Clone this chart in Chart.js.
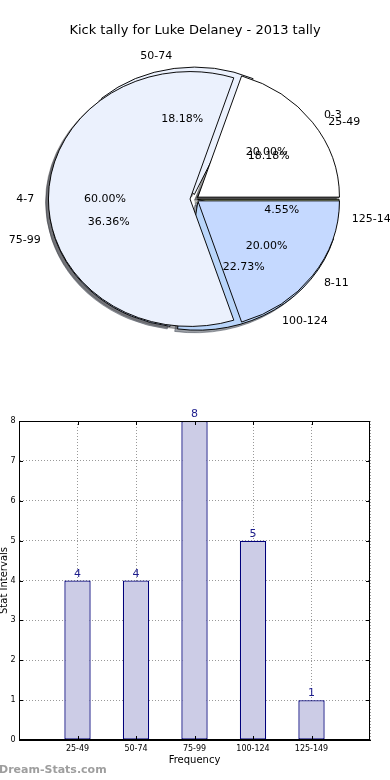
<!DOCTYPE html>
<html><head><meta charset="utf-8">
<script src="https://cdn.jsdelivr.net/npm/chart.js@4.4.0/dist/chart.umd.min.js"></script>
<style>
html,body{margin:0;padding:0;background:#fff;}
body{width:390px;height:780px;position:relative;overflow:hidden;font-family:'DejaVu Sans',sans-serif;}
#title{position:absolute;left:0;width:390px;top:21px;text-align:center;font-size:13px;line-height:18px;color:#000;}
canvas{position:absolute;}
#pieBack{left:0;top:0;visibility:hidden;}
#pieFront{left:0;top:0;}
#bar{left:0;top:400px;}
#wm{position:absolute;left:-1px;top:763px;font-size:11px;font-weight:bold;color:#9e9e9e;line-height:14px;}
</style></head>
<body>
<canvas id="pieBack" width="390" height="398"></canvas>
<canvas id="pieFront" width="390" height="398"></canvas>
<div id="title">Kick tally for Luke Delaney - 2013 tally</div>
<canvas id="bar" width="390" height="380"></canvas>
<div id="wm">Dream-Stats.com</div>
<script>
// ---- data ----
const kickLabels = ['0-3', '4-7', '8-11'];
const kickPercents = [20, 60, 20];
const intervalLabels = ['25-49', '50-74', '75-99', '100-124', '125-149'];
const intervalCounts = [4, 4, 8, 5, 1];

// ---- styles ----
const sliceColors = ['#ffffff', '#ebf1fd', '#c5d9ff', '#b9d5fa', '#e4f2a6'];
const frontExplode = [0.025, 0.035, 0.025];
const backExplode = [0.018, 0.035, 0.035, 0.035, 0.018];
const SQUASH = 0.9;
const PIE_RADIUS = 141.6;

Chart.defaults.font.family = "'DejaVu Sans', sans-serif";
Chart.defaults.color = '#000';
Chart.defaults.animation = false;

function rev(a) { return a.slice().reverse(); }
function shade(hex) {
  const n = parseInt(hex.slice(1), 16);
  const r = (n >> 16) & 255, g = (n >> 8) & 255, b = n & 255;
  return 'rgba(' + Math.round(r * 0.3) + ',' + Math.round(g * 0.3) + ',' + Math.round(b * 0.3) + ',0.5)';
}

function pieConfig(labels, values, colors, plugins) {
  return {
    type: 'pie',
    data: {
      labels: rev(labels),
      datasets: [{ data: rev(values), backgroundColor: rev(colors), borderColor: '#000', borderWidth: 1 }]
    },
    options: {
      responsive: false, animation: false, events: [],
      rotation: 90, radius: PIE_RADIUS,
      layout: { padding: 0 },
      plugins: { legend: { display: false }, tooltip: { enabled: false }, title: { display: false } }
    },
    plugins: plugins
  };
}

function drawArcLayer(ctx, chart, explodeArr, shadow) {
  const arcs = chart.getDatasetMeta(0).data;
  arcs.forEach(function (arc, i) {
    const r = arc.outerRadius;
    const a = (arc.startAngle + arc.endAngle) / 2;
    const e = explodeArr[i] * r;
    let dx = Math.cos(a) * e, dy = Math.sin(a) * e;
    const saved = arc.options;
    if (shadow) {
      dx += -0.02 * r; dy += 0.02 * r;
      const c = shade(saved.backgroundColor);
      const o = Object.assign({}, saved);
      o.backgroundColor = c; o.borderColor = c;
      arc.options = o;
    }
    ctx.save();
    ctx.translate(dx, dy);
    arc.draw(ctx);
    ctx.restore();
    arc.options = saved;
  });
}

function drawPieLabels(ctx, chart, explodeArr) {
  const arcs = chart.getDatasetMeta(0).data;
  const values = chart.data.datasets[0].data;
  const labels = chart.data.labels;
  const total = values.reduce(function (s, v) { return s + v; }, 0);
  ctx.save();
  ctx.font = "11px 'DejaVu Sans'";
  ctx.fillStyle = '#000';
  ctx.textBaseline = 'middle';
  arcs.forEach(function (arc, i) {
    const r = arc.outerRadius, a = (arc.startAngle + arc.endAngle) / 2;
    const e = explodeArr[i] * r;
    const c = Math.cos(a), s = Math.sin(a);
    const lx = arc.x + (e + 1.1 * r) * c, ly = arc.y + SQUASH * (e + 1.1 * r) * s;
    ctx.textAlign = c > 0 ? 'left' : 'right';
    ctx.fillText(labels[i], lx, ly);
    const px = arc.x + (e + 0.6 * r) * c, py = arc.y + SQUASH * (e + 0.6 * r) * s;
    ctx.textAlign = 'center';
    ctx.fillText((values[i] / total * 100).toFixed(2) + '%', px, py);
  });
  ctx.restore();
}

const backChart = new Chart(document.getElementById('pieBack'),
  pieConfig(intervalLabels, intervalCounts, sliceColors.slice(0, 5), [{
    id: 'hideBack', beforeDatasetsDraw: function () { return false; }
  }]));

const frontChart = new Chart(document.getElementById('pieFront'),
  pieConfig(kickLabels, kickPercents, sliceColors.slice(0, 3), [{
    id: 'pieLayers',
    beforeDatasetsDraw: function (chart) {
      const ctx = chart.ctx;
      const arc0 = chart.getDatasetMeta(0).data[0];
      const cx = arc0.x, cy = arc0.y;
      ctx.save();
      ctx.translate(cx, cy); ctx.scale(1, SQUASH); ctx.translate(-cx, -cy);
      drawArcLayer(ctx, backChart, rev(backExplode), true);
      drawArcLayer(ctx, chart, rev(frontExplode), true);
      drawArcLayer(ctx, backChart, rev(backExplode), false);
      drawArcLayer(ctx, chart, rev(frontExplode), false);
      ctx.restore();
      return false;
    },
    afterDraw: function (chart) {
      drawPieLabels(chart.ctx, backChart, rev(backExplode));
      drawPieLabels(chart.ctx, chart, rev(frontExplode));
    }
  }]));

// ---- bar chart ----
const framePlugin = {
  id: 'frame',
  afterDraw: function (chart) {
    const ctx = chart.ctx;
    const ca = chart.chartArea;
    ctx.save();
    ctx.strokeStyle = '#000'; ctx.lineWidth = 1;
    ctx.strokeRect(Math.round(ca.left) + 0.5, Math.round(ca.top) + 0.5,
      Math.round(ca.right - ca.left) - 1, Math.round(ca.bottom - ca.top) - 1);
    ctx.beginPath();
    const ys = chart.scales.y, xs = chart.scales.x;
    ys.ticks.forEach(function (t, i) {
      const py = Math.round(ys.getPixelForTick(i)) + 0.5;
      ctx.moveTo(ca.left, py); ctx.lineTo(ca.left + 4, py);
      ctx.moveTo(ca.right - 4, py); ctx.lineTo(ca.right, py);
    });
    xs.ticks.forEach(function (t, i) {
      if (!chart.data.labels[i]) return;
      const px = Math.round(xs.getPixelForTick(i)) + 0.5;
      ctx.moveTo(px, ca.bottom); ctx.lineTo(px, ca.bottom - 4);
      ctx.moveTo(px, ca.top); ctx.lineTo(px, ca.top + 4);
    });
    ctx.stroke();
    ctx.restore();
  }
};
const valueLabelPlugin = {
  id: 'valueLabels',
  afterDatasetsDraw: function (chart) {
    const ctx = chart.ctx;
    const ds = chart.data.datasets[0];
    ctx.save();
    ctx.font = "11px 'DejaVu Sans'";
    ctx.fillStyle = '#1c1c8c';
    ctx.textAlign = 'center';
    ctx.textBaseline = 'alphabetic';
    chart.getDatasetMeta(0).data.forEach(function (el, i) {
      const v = ds.data[i];
      if (v === null || v === undefined) return;
      ctx.fillText(String(v), el.x, el.y - 4);
    });
    ctx.restore();
  }
};

const gridCfg = { color: 'rgba(0,0,0,0.4)', lineWidth: 1, drawTicks: false, offset: false };
new Chart(document.getElementById('bar'), {
  type: 'bar',
  data: {
    labels: [''].concat(intervalLabels, ['']),
    datasets: [{
      data: [null].concat(intervalCounts, [null]),
      backgroundColor: '#ccccE6', borderColor: '#00007a', borderWidth: 1.3, borderSkipped: false,
      barPercentage: 0.45, categoryPercentage: 1
    }]
  },
  options: {
    responsive: false, animation: false, events: [],
    layout: { padding: { top: 21, right: 20, bottom: 10, left: 0 } },
    plugins: { legend: { display: false }, tooltip: { enabled: false } },
    scales: {
      x: {
        offset: false,
        grid: gridCfg,
        border: { display: true, color: '#000', width: 1, dash: [1, 2] },
        ticks: { autoSkip: false, maxRotation: 0, padding: 4, font: { size: 8 }, color: '#000' },
        title: { display: true, text: 'Frequency', font: { size: 10 }, padding: { top: 0, bottom: 4 }, color: '#000' },
        afterFit: function (s) { s.height = 30; }
      },
      y: {
        min: 0, max: 8,
        grid: gridCfg,
        border: { display: true, color: '#000', width: 1, dash: [1, 2] },
        ticks: { stepSize: 1, padding: 3.5, font: { size: 8 }, color: '#000' },
        title: { display: true, text: 'Stat Intervals', font: { size: 10 }, padding: { top: -2, bottom: 0 }, color: '#000' },
        afterFit: function (s) { s.width = 19; }
      }
    }
  },
  plugins: [framePlugin, valueLabelPlugin]
});
</script>
</body></html>
